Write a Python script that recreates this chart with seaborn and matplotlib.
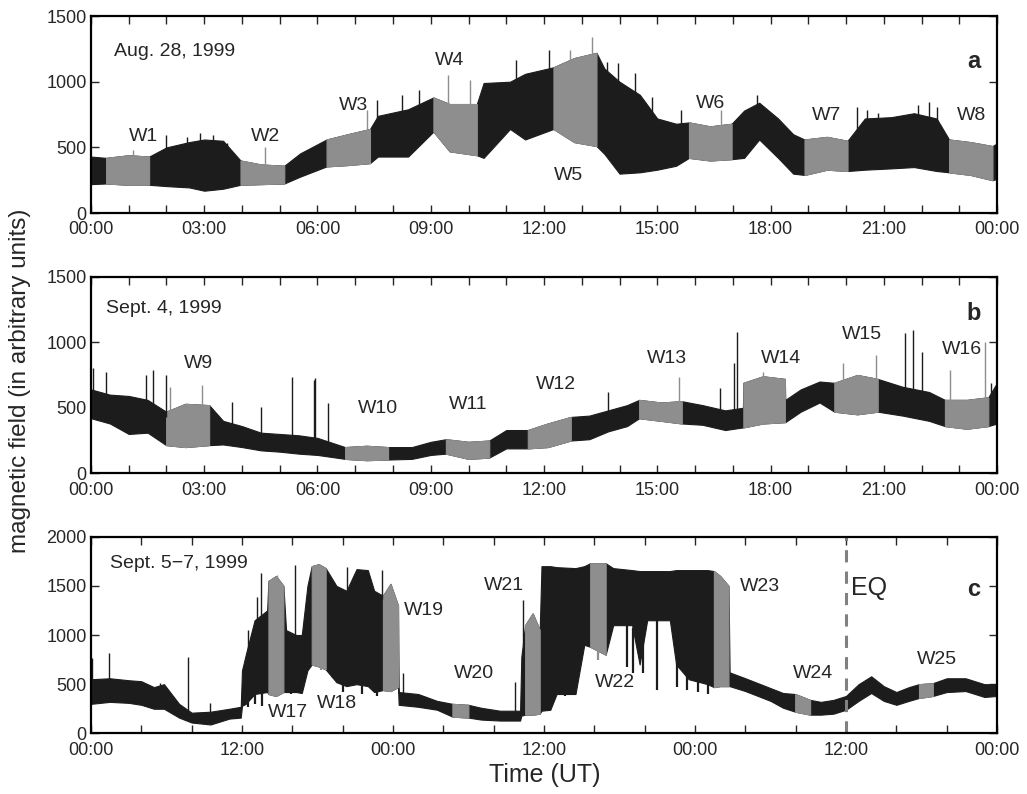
import numpy as np
import seaborn as sns
import matplotlib
matplotlib.use("Agg")
import matplotlib.pyplot as plt
from matplotlib.ticker import MultipleLocator, FuncFormatter

# ---- panel a : Aug. 28, 1999 (hours, envelope low / high) ----
a_t = [0.00, 0.40, 1.00, 1.54, 2.00, 2.60, 3.00, 3.50, 3.96, 4.50, 5.12, 5.54, 6.24, 6.80, 7.39,
       7.60, 8.40, 9.07, 9.50, 10.22, 10.40, 11.10, 11.50, 12.25, 12.80, 13.39, 13.60, 14.00, 14.54,
       15.00, 15.50, 15.84, 16.40, 16.97, 17.30, 17.70, 18.20, 18.60, 18.90, 19.50, 20.04, 20.50,
       21.20, 21.80, 22.40, 22.73, 23.30, 23.88, 24.00]
a_lo = [220, 225, 215, 215, 205, 195, 170, 185, 215, 220, 225, 277, 355, 365, 380,
        430, 430, 620, 470, 440, 420, 640, 560, 640, 540, 510, 450, 300, 310,
        330, 360, 420, 400, 410, 420, 560, 420, 300, 290, 330, 320, 330,
        340, 350, 320, 310, 290, 250, 260]
a_hi = [430, 420, 440, 430, 500, 540, 560, 550, 400, 370, 360, 454, 560, 600, 640,
        740, 790, 880, 830, 830, 990, 1000, 1060, 1110, 1180, 1220, 1100, 1000, 900,
        720, 680, 690, 660, 680, 780, 840, 720, 600, 560, 580, 550, 720,
        730, 760, 720, 560, 540, 510, 530]
a_win = [(0.40, 1.54), (3.96, 5.12), (6.24, 7.39), (9.07, 10.22), (12.25, 13.39),
         (15.84, 16.97), (18.90, 20.04), (22.73, 23.88)]
a_spk_t = [1.10, 2.00, 2.53, 2.89, 3.24, 3.60, 4.60, 7.31, 7.57, 8.25, 8.70, 9.46, 10.03, 11.26,
           12.14, 12.70, 13.28, 13.68, 13.95, 14.40, 14.87, 15.62, 16.70, 17.63, 20.28, 20.56,
           20.84, 21.90, 22.20, 22.40]
a_spk_v = [480, 594, 581, 607, 594, 530, 505, 784, 860, 898, 936, 1051, 1013, 1165,
           1241, 1241, 1343, 1152, 1140, 1063, 886, 784, 784, 898, 810, 784,
           759, 822, 848, 810]
a_names = ["W1", "W2", "W3", "W4", "W5", "W6", "W7", "W8"]
a_name_x = [1.38, 4.63, 6.95, 9.49, 12.65, 16.41, 19.49, 23.33]
a_name_y = [579, 579, 815, 1165, 289, 835, 746, 746]

# ---- panel b : Sept. 4, 1999 ----
b_t = [0.00, 0.50, 1.00, 1.50, 1.99, 2.50, 3.13, 3.50, 4.00, 4.50, 5.00, 5.50, 6.00, 6.73, 7.30, 7.87,
       8.50, 9.00, 9.40, 10.00, 10.55, 11.00, 11.57, 12.10, 12.71, 13.20, 13.70, 14.20, 14.52, 15.10,
       15.65, 16.20, 16.80, 17.27, 17.28, 17.80, 18.38, 18.39, 18.80, 19.30, 19.69, 20.30, 20.84,
       21.50, 22.20, 22.62, 23.20, 23.77, 24.00]
b_lo = [420, 380, 300, 310, 215, 200, 215, 220, 200, 175, 165, 150, 140, 110, 100, 105,
        110, 140, 150, 110, 120, 190, 190, 200, 250, 260, 320, 360, 420, 400,
        380, 370, 330, 350, 350, 380, 390, 390, 470, 540, 470, 450, 470,
        440, 400, 360, 340, 360, 380]
b_hi = [640, 600, 590, 560, 470, 530, 520, 400, 360, 310, 300, 290, 270, 200, 210, 200,
        200, 240, 260, 240, 250, 330, 330, 380, 430, 440, 480, 520, 560, 540,
        550, 520, 480, 500, 690, 740, 720, 560, 640, 700, 690, 750, 720,
        660, 620, 560, 560, 580, 690]
b_win = [(1.99, 3.13), (6.73, 7.87), (9.40, 10.55), (11.57, 12.71), (14.52, 15.65),
         (17.28, 18.38), (19.69, 20.84), (22.62, 23.77)]
b_spk_t = [0.06, 0.40, 1.47, 1.65, 1.98, 2.10, 2.93, 3.73, 4.50, 5.32, 5.90, 5.93, 6.29, 13.69, 15.58,
           16.66, 17.02, 17.12, 17.81, 19.93, 20.79, 21.56, 21.78, 22.00, 22.75, 23.68, 23.85]
b_spk_v = [801, 775, 750, 788, 750, 661, 674, 547, 508, 737, 712, 724, 534, 623, 737,
           648, 839, 1080, 775, 839, 902, 1068, 1093, 928, 788, 1004, 686]
b_names = ["W9", "W10", "W11", "W12", "W13", "W14", "W15", "W16"]
b_name_x = [2.84, 7.61, 10.00, 12.33, 15.25, 18.28, 20.41, 23.06]
b_name_y = [839, 496, 521, 674, 877, 877, 1055, 946]

# ---- panel c : Sept. 5-7, 1999 ----
c_t = [0.0, 1.5, 3.0, 4.0, 5.0, 5.8, 7.0, 8.0, 9.5, 11.0, 11.9, 12.0, 12.3, 13.0, 14.0, 14.1, 14.7,
       15.29, 15.5, 16.3, 16.75, 17.2, 17.54, 18.1, 18.65, 19.5, 20.3, 21.1, 22.0, 22.5, 23.2, 23.8,
       24.4, 24.45, 26.0, 27.5, 28.72, 29.99, 31.0, 32.5, 34.1, 34.2, 34.5, 35.1, 35.66, 35.8, 36.5,
       37.0, 38.5, 39.2, 39.67, 40.9, 41.5, 43.0, 43.6, 44.2, 46.0, 46.5, 47.5, 49.0, 49.5, 50.0,
       50.66, 50.75, 52.0, 53.0, 54.0, 55.0, 55.96, 57.15, 58.0, 59.0, 60.0, 61.0, 62.0, 63.0, 64.0,
       65.0, 65.8, 66.9, 68.0, 69.5, 71.0, 72.0]
c_lo = [300, 320, 310, 290, 250, 250, 160, 110, 90, 150, 160, 280, 300, 400, 420, 400, 380,
        420, 420, 420, 410, 640, 700, 680, 650, 520, 480, 500, 480, 420, 440, 430,
        470, 290, 270, 240, 170, 160, 140, 130, 130, 180, 190, 190, 200, 230, 240,
        400, 400, 900, 880, 800, 1100, 1100, 700, 1150, 1150, 700, 550, 500, 470, 480,
        480, 480, 430, 380, 330, 260, 220, 190, 190, 200, 240, 330, 410, 330, 290,
        330, 360, 380, 420, 430, 370, 380]
c_hi = [550, 560, 540, 530, 470, 500, 300, 210, 220, 250, 270, 640, 800, 1150, 1250, 1550, 1600,
        1500, 1050, 1000, 1000, 1500, 1700, 1720, 1680, 1500, 1450, 1670, 1660, 1450, 1400, 1520,
        1300, 420, 400, 330, 300, 290, 260, 230, 230, 780, 1100, 1220, 1050, 1700, 1700,
        1690, 1680, 1700, 1730, 1730, 1680, 1660, 1650, 1650, 1650, 1660, 1660, 1660, 1650, 1600,
        1500, 620, 560, 510, 460, 410, 400, 340, 320, 340, 380, 500, 580, 480, 420,
        470, 500, 510, 560, 560, 500, 500]
c_win = [(14.10, 15.29), (17.54, 18.65), (23.20, 24.40), (28.72, 29.99), (34.50, 35.66),
         (39.67, 40.90), (49.50, 50.66), (55.96, 57.15), (65.80, 66.90)]
c_spk_t = [0.07, 1.45, 5.45, 7.74, 9.45, 12.50, 13.20, 13.50, 14.76, 16.20, 20.33, 23.10, 24.80, 33.70, 34.35]
c_spk_v = [763, 814, 509, 780, 305, 1051, 1390, 1627, 1610, 1712, 1695, 1661, 610, 525, 1356]
c_dip_t = [12.5, 13.0, 13.6, 15.9, 18.3, 19.2, 20.0, 21.5, 22.7, 36.2, 37.7, 40.3, 42.6, 43.1,
           43.9, 44.97, 46.6, 47.4, 48.2, 49.0]
c_dip_v = [271, 300, 280, 400, 644, 560, 420, 400, 380, 373, 380, 746, 678, 610,
           610, 441, 473, 441, 420, 400]
c_names = ["W17", "W18", "W19", "W20", "W21", "W22", "W23", "W24", "W25"]
c_name_x = [15.69, 19.53, 26.42, 30.40, 32.80, 41.65, 53.20, 57.40, 67.20]
c_name_y = [210, 305, 1254, 610, 1508, 519, 1492, 610, 746]
eq_time = 60.0

BLACK = "#1c1c1c"
GRAY = "#8e8e8e"

sns.set_theme(style="ticks")
plt.rcParams["font.family"] = ["Liberation Sans", "DejaVu Sans"]

fig = plt.figure(figsize=(10.27, 7.94), dpi=100)
ax_a = fig.add_axes([0.0886, 0.7317, 0.8822, 0.2481])
ax_b = fig.add_axes([0.0886, 0.4039, 0.8822, 0.2477])
ax_c = fig.add_axes([0.0886, 0.0764, 0.8822, 0.2477])


def in_win(t, wins):
    return any(s - 1e-6 <= t <= e + 1e-6 for s, e in wins)


def draw_panel(ax, t, lo, hi, wins, spk_t, spk_v, names, nx, ny, dip_t=(), dip_v=()):
    t = np.array(t, float)
    lo = np.array(lo, float)
    hi = np.array(hi, float)
    ax.fill_between(t, lo, hi, color=BLACK, lw=0.8, edgecolor=BLACK)
    for s, e in wins:
        m = (t >= s - 1e-6) & (t <= e + 1e-6)
        ax.fill_between(t[m], lo[m], hi[m], color=GRAY, lw=0.8, edgecolor=GRAY)
    for st, sv in zip(spk_t, spk_v):
        base = np.interp(st, t, hi) - 40
        col = GRAY if in_win(st, wins) else BLACK
        ax.vlines(st, base, sv, color=col, lw=1.0)
    for st, sv in zip(dip_t, dip_v):
        top = np.interp(st, t, lo) + 40
        col = GRAY if in_win(st, wins) else BLACK
        ax.vlines(st, sv, top, color=col, lw=1.6)
    for name, x, y in zip(names, nx, ny):
        ax.text(x, y, name, ha="center", va="center", fontsize=14)


def style_axes(ax, xmax, major, minor, ymax):
    ax.set_xlim(0, xmax)
    ax.set_ylim(0, ymax)
    ax.xaxis.set_major_locator(MultipleLocator(major))
    ax.xaxis.set_minor_locator(MultipleLocator(minor))
    ax.yaxis.set_major_locator(MultipleLocator(500))
    ax.xaxis.set_major_formatter(FuncFormatter(lambda v, p: "%02d:00" % (int(round(v)) % 24)))
    ax.tick_params(which="both", direction="in", top=True, right=True, length=6, width=1.0,
                   labelsize=13, pad=3)
    ax.tick_params(axis="x", pad=6)
    for sp in ax.spines.values():
        sp.set_linewidth(1.6)
        sp.set_color("black")
    ax.set_xlabel("")
    ax.set_ylabel("")


draw_panel(ax_a, a_t, a_lo, a_hi, a_win, a_spk_t, a_spk_v, a_names, a_name_x, a_name_y)
style_axes(ax_a, 24, 3, 1, 1500)
ax_a.text(0.025, 0.82, "Aug. 28, 1999", transform=ax_a.transAxes, fontsize=14, va="center")
ax_a.text(0.974, 0.77, "a", transform=ax_a.transAxes, fontsize=17, fontweight="bold", ha="center", va="center")

draw_panel(ax_b, b_t, b_lo, b_hi, b_win, b_spk_t, b_spk_v, b_names, b_name_x, b_name_y)
style_axes(ax_b, 24, 3, 1, 1500)
ax_b.text(0.017, 0.84, "Sept. 4, 1999", transform=ax_b.transAxes, fontsize=14, va="center")
ax_b.text(0.974, 0.81, "b", transform=ax_b.transAxes, fontsize=17, fontweight="bold", ha="center", va="center")

draw_panel(ax_c, c_t, c_lo, c_hi, c_win, c_spk_t, c_spk_v, c_names, c_name_x, c_name_y,
           c_dip_t, c_dip_v)
style_axes(ax_c, 72, 12, 4, 2000)
ax_c.axvline(eq_time, color="#808080", lw=2.2, ls=(0, (4, 3)))
ax_c.text(61.8, 1475, "EQ", fontsize=18, ha="center", va="center")
ax_c.text(0.021, 0.864, "Sept. 5\u22127, 1999", transform=ax_c.transAxes, fontsize=14, va="center")
ax_c.text(0.974, 0.73, "c", transform=ax_c.transAxes, fontsize=17, fontweight="bold", ha="center", va="center")

fig.text(0.0195, 0.52, "magnetic field (in arbitrary units)", rotation=90, fontsize=17.5,
         ha="center", va="center")
fig.text(0.53, 0.024, "Time (UT)", fontsize=18, ha="center", va="center")

fig.savefig("out.png", dpi=100)
